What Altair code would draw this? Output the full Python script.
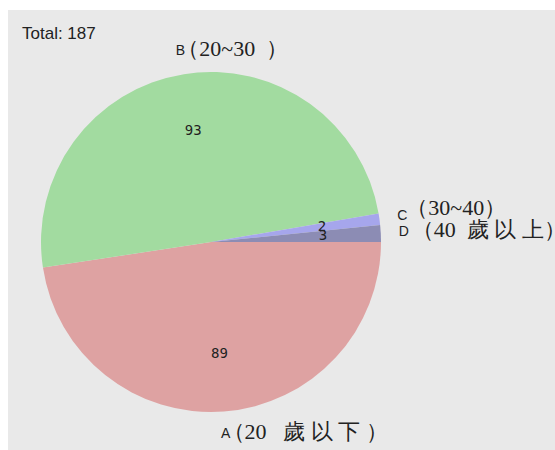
import math
import altair as alt
import pandas as pd

NB = "\u00a0"  # non-collapsing space for caption spacing

# Age groups and respondent counts
letters = ["A", "B", "C", "D"]
ranges = [
    f"（20{NB * 3}歲 以 下 ）",
    f"（20~30{NB * 2}）",
    "（30~40）",
    f"（40{NB * 2}歲 以 上）",
]
counts = [89, 93, 2, 3]
colors = ["#dea2a2", "#a2dba0", "#a6a6ec", "#8c8cb4"]

total = sum(counts)
df = pd.DataFrame({"letter": letters, "range": ranges, "count": counts, "order": range(len(letters))})

cx, cy, R = 203, 232, 170

theta = alt.Theta("count:Q", stack=True,
                  scale=alt.Scale(range=[math.pi / 2, math.pi / 2 + 2 * math.pi]))
order = alt.Order("order:Q")
pos = dict(x=alt.value(cx), y=alt.value(cy))

base = alt.Chart(df)

pie = base.mark_arc(radius=R, stroke=None).encode(
    theta=theta, order=order,
    color=alt.Color("letter:N", scale=alt.Scale(domain=letters, range=colors), legend=None),
    **pos,
)

values = base.mark_text(radius=112, fontSize=14, font="DejaVu Sans Mono", color="#222").encode(
    theta=theta, order=order, text="count:Q", **pos,
)

letter_lbl = base.mark_text(radius=193, fontSize=14, font="Liberation Sans", color="#222",
                            align="center", baseline="middle").encode(
    theta=theta, order=order, text="letter:N", **pos,
)


def caption_layer(keep, dx, dy):
    # Range caption beside its letter; blank text for the other slices keeps the stack intact
    expr = " || ".join(f"datum.letter == '{k}'" for k in keep)
    return base.transform_calculate(
        t=f"({expr}) ? datum.range : ''"
    ).mark_text(radius=193, fontSize=22, font="Liberation Serif", color="#222",
                align="left", baseline="middle", dx=dx, dy=dy).encode(
        theta=theta, order=order, text="t:N", **pos,
    )


captions = [
    caption_layer(["A", "B"], -3, -2),
    caption_layer(["C"], 4, -8),   # lifted so it clears D's caption
    caption_layer(["D"], 8, -2),
]

total_lbl = alt.Chart(pd.DataFrame({"t": [f"Total: {total}"]})).mark_text(
    align="left", baseline="alphabetic", fontSize=17, font="Liberation Sans", color="#222"
).encode(x=alt.value(14), y=alt.value(29), text="t:N")

chart = alt.layer(pie, values, letter_lbl, *captions, total_lbl).properties(
    width=547, height=440,
    padding={"left": 8, "top": 10, "right": 0, "bottom": 0},
    autosize=alt.AutoSizeParams(type="none"),
    background="white",
).configure_view(fill="#e9e9e9", stroke=None)

chart.save("out.html", embed_options={"renderer": "svg", "actions": False})
